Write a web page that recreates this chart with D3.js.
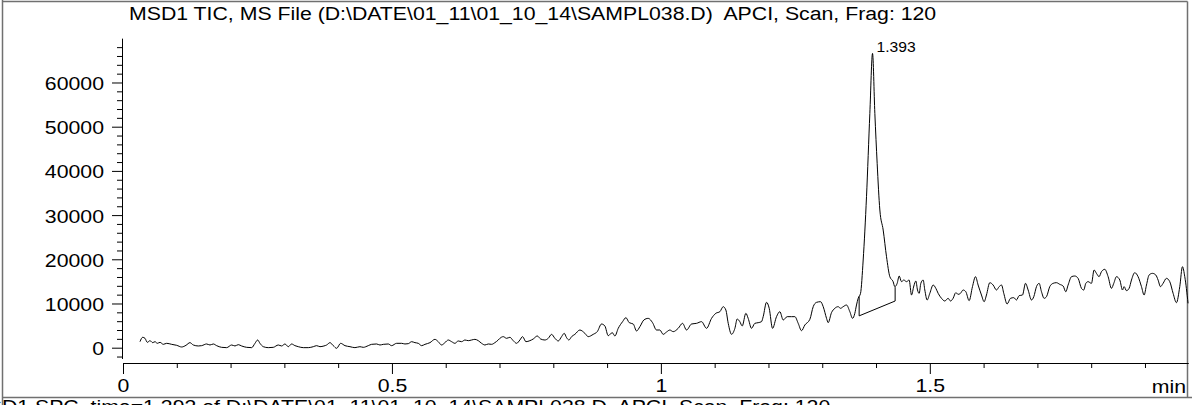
<!DOCTYPE html>
<html>
<head>
<meta charset="utf-8">
<script src="https://cdn.jsdelivr.net/npm/d3@7"></script>
<style>
  body { margin: 0; background: #fff; }
  svg { display: block; font-family: "Liberation Sans", Arial, sans-serif; }
</style>
</head>
<body>
<svg id="chart" width="1192" height="405"></svg>
<script>
// TIC trace (time in min, abundance in counts)
const scanTimes = [
  0.0316, 0.0366, 0.0409, 0.0452, 0.0502, 0.0552, 0.0595, 0.0638, 0.0688, 0.0750,
  0.0812, 0.0905, 0.0998, 0.1091, 0.1171, 0.1245, 0.1307, 0.1400, 0.1462, 0.1555,
  0.1617, 0.1679, 0.1741, 0.1834, 0.1927, 0.2020, 0.2082, 0.2143, 0.2206, 0.2299,
  0.2392, 0.2454, 0.2503, 0.2546, 0.2608, 0.2701, 0.2794, 0.2887, 0.2949, 0.3011,
  0.3073, 0.3135, 0.3197, 0.3259, 0.3352, 0.3445, 0.3538, 0.3600, 0.3662, 0.3736,
  0.3786, 0.3848, 0.3910, 0.3972, 0.4046, 0.4127, 0.4220, 0.4312, 0.4405, 0.4467,
  0.4560, 0.4622, 0.4715, 0.4777, 0.4839, 0.4932, 0.4994, 0.5087, 0.5180, 0.5242,
  0.5304, 0.5366, 0.5428, 0.5490, 0.5552, 0.5614, 0.5707, 0.5799, 0.5861, 0.5923,
  0.5985, 0.6047, 0.6109, 0.6171, 0.6233, 0.6295, 0.6357, 0.6419, 0.6481, 0.6543,
  0.6605, 0.6667, 0.6729, 0.6791, 0.6853, 0.6914, 0.6976,
  0.7007, 0.7070, 0.7131, 0.7193, 0.7255, 0.7317, 0.7379, 0.7429, 0.7491, 0.7565,
  0.7627, 0.7702, 0.7764, 0.7844, 0.7906, 0.7968, 0.8030, 0.8092, 0.8154, 0.8203,
  0.8247, 0.8290, 0.8340, 0.8401, 0.8494, 0.8587, 0.8649, 0.8742, 0.8817, 0.8897,
  0.8959, 0.9021, 0.9096, 0.9145, 0.9207, 0.9288, 0.9350, 0.9412, 0.9486, 0.9548,
  0.9610, 0.9684, 0.9765, 0.9845, 0.9919, 0.9981, 1.0043, 1.0105, 1.0167, 1.0229,
  1.0322, 1.0403, 1.0477, 1.0570, 1.0663, 1.0756, 1.0849, 1.0942, 1.1022, 1.1097,
  1.1159, 1.1208, 1.1252, 1.1314, 1.1376, 1.1419, 1.1468, 1.1512, 1.1580, 1.1623,
  1.1685, 1.1747, 1.1809, 1.1871, 1.1902, 1.1964, 1.2014, 1.2076, 1.2150, 1.2212,
  1.2274, 1.2349, 1.2429, 1.2491, 1.2553, 1.2615, 1.2677, 1.2770, 1.2832, 1.2894,
  1.2968, 1.3018, 1.3080, 1.3110, 1.3172, 1.3234, 1.3296, 1.3340, 1.3389, 1.3451,
  1.3513, 1.3563, 1.3606, 1.3637, 1.3668,
  1.3712, 1.3761, 1.3823, 1.3885, 1.3935, 1.3978, 1.4021, 1.4071, 1.4133, 1.4195,
  1.4257, 1.4318, 1.4349,
  1.4393, 1.4430, 1.4474, 1.4517, 1.4567, 1.4615, 1.4660, 1.4703, 1.4740, 1.4771,
  1.4802, 1.4833, 1.4876, 1.4907, 1.4950, 1.5000, 1.5062, 1.5112, 1.5155, 1.5217,
  1.5279, 1.5340, 1.5385, 1.5433, 1.5483, 1.5526, 1.5570, 1.5619, 1.5669, 1.5731,
  1.5793, 1.5849, 1.5898, 1.5960, 1.6010, 1.6053, 1.6115, 1.6177, 1.6239, 1.6289,
  1.6333, 1.6375, 1.6437, 1.6500, 1.6561, 1.6611, 1.6660, 1.6723, 1.6779, 1.6828,
  1.6890, 1.6933, 1.6983, 1.7032, 1.7076, 1.7125, 1.7169, 1.7230, 1.7292, 1.7354,
  1.7416, 1.7478, 1.7528, 1.7571, 1.7634, 1.7695, 1.7757, 1.7819, 1.7862, 1.7900,
  1.7942, 1.8005, 1.8054, 1.8098, 1.8147, 1.8191, 1.8253, 1.8315, 1.8377, 1.8420,
  1.8470, 1.8532, 1.8582, 1.8612, 1.8656, 1.8705, 1.8749, 1.8810, 1.8872, 1.8935,
  1.8984, 1.9028, 1.9077, 1.9139, 1.9201, 1.9244, 1.9288, 1.9337, 1.9399, 1.9461,
  1.9523, 1.9585, 1.9647, 1.9697, 1.9740, 1.9801
];
const ticCounts = [
  1360, 2350, 2120, 1210, 1590, 1140, 1360, 990, 1210, 760,
  990, 760, 540, 160, 540, 1140, 610, 390, 460, 840,
  610, 840, 460, 80, 10, 610, 390, 690, 390, 80,
  10, 990, 1740, 990, 230, 10, 80, 610, 390, 840,
  230, 840, 460, 230, 10, 10, 230, 460, 230, 390,
  610, 1140, 460, -140, 990, 460, 230, 10, 230, 80,
  460, 760, 840, 610, 760, 840, 460, 990, 990, 840,
  910, 1360, 1140, 990, 460, 760, 1140, 1890, 1360, 610,
  1140, 1740, 1360, 990, 1520, 1360, 1740, 1590, 1740, 1890,
  1590, 990, 610, 840, 760, 1140, 1740,
  2120, 2500, 2120, 2350, 1590, 990, 1740, 2500, 1360, 1590,
  1970, 2650, 1970, 1740, 2120, 3020, 2120, 1520, 2500, 3250,
  2270, 1740, 2500, 3020, 4000, 3250, 2500, 3020, 3630, 5360,
  4910, 2720, 3400, 2650, 4380, 5890, 6790, 5660, 5360, 3780,
  4760, 6270, 6640, 5660, 4000, 4000, 3020, 3550, 4000, 3630,
  4380, 5510, 4000, 5360, 5510, 5890, 4380, 6640, 7780, 8150,
  9280, 8530, 5510, 3020, 4380, 6490, 5890, 4910, 7780, 6640,
  4380, 5510, 5660, 5890, 7020, 10260, 8910, 4380, 7020, 8150,
  6270, 7020, 7020, 7020, 5510, 3850, 5140, 6420, 9280, 10260,
  10410, 9280, 6640, 5660, 7920, 8910, 9280, 8910, 9280, 9660,
  8150, 6640, 7780, 9660, 11170,
  12300, 19840, 34160, 53020, 66590, 53020, 41710, 31150, 26620, 20580,
  16060, 14940, 13810,
  14560, 16220, 14940, 15310, 14940, 15310, 11920, 13960, 15090, 13050,
  12300, 14560, 15310, 13050, 10790, 12300, 14180, 13430, 12300, 11170,
  10560, 11170, 10560, 11170, 12450, 12070, 12300, 13050, 12670, 10640,
  13810, 16070, 14180, 11920, 10410, 11920, 14710, 14180, 13050, 13810,
  14180, 12300, 9890, 11170, 11320, 10790, 11770, 11920, 14560, 13050,
  10790, 11540, 13810, 14560, 12670, 11170, 11540, 13810, 14560, 14710,
  14330, 13960, 12670, 14180, 16070, 16220, 15690, 13430, 13050, 14560,
  14940, 14560, 17580, 16820, 16070, 17200, 17730, 16070, 13430, 14560,
  16070, 15310, 13050, 13810, 12900, 13430, 15310, 16970, 16070, 13810,
  11920, 14180, 16450, 16820, 16450, 15310, 13810, 14560, 15690, 14940,
  12300, 10190, 13810, 18330, 16070, 10040
];

// integration baseline of the labelled peak
const baselineTimes = [1.3686, 1.4355];
const baselineCounts = [7200, 10560];
const baselineCurveCounts = [11600, 13700];
const peakTime = 1.3935;
const peakCounts = 66590;
const peakLabel = '1.393';

const xTickValues = [0, 0.5, 1, 1.5];
const xTickLabels = ['0', '0.5', '1', '1.5'];
const yTickValues = [0, 10000, 20000, 30000, 40000, 50000, 60000];
const yTickLabels = ['0', '10000', '20000', '30000', '40000', '50000', '60000'];
const xUnit = 'min';
const titleText = 'MSD1 TIC, MS File (D:\\DATE\\01_11\\01_10_14\\SAMPL038.D)  APCI, Scan, Frag: 120';
const footerText = 'MSD1 SPC, time=1.393 of D:\\DATE\\01_11\\01_10_14\\SAMPL038.D  APCI, Scan, Frag: 120';

const fontSize = 19;
const stretch = 1.12; // the original text is drawn a bit wide

const svg = d3.select('#chart');

const x = d3.scaleLinear().domain([0, 1.98]).range([123, 1188]);
const y = d3.scaleLinear().domain([-2400, 70000]).range([358.3, 38.3]);

// Frame
const frame = svg.append('g')
  .attr('stroke', '#707070')
  .attr('stroke-width', 1.5)
  .attr('fill', 'none');
frame.append('line').attr('x1', 2.5).attr('y1', 0).attr('x2', 2.5).attr('y2', 405);
frame.append('line').attr('x1', 2.5).attr('y1', 1.5).attr('x2', 1187.5).attr('y2', 1.5);
frame.append('line').attr('x1', 1187.5).attr('y1', 1.5).attr('x2', 1187.5).attr('y2', 397.5);
frame.append('line').attr('x1', 2.5).attr('y1', 397.5).attr('x2', 1192).attr('y2', 397.5);

const wideText = (sel) => sel.each(function () {
  const t = d3.select(this);
  const tx = +t.attr('x') || 0;
  t.attr('x', 0).attr('transform', `translate(${tx},0) scale(${stretch},1)`);
});

// Title and footer (the footer is cut by the window's bottom edge, as in the original)
svg.append('text')
  .attr('transform', `translate(129,20) scale(${stretch},1)`)
  .attr('font-size', fontSize)
  .style('white-space', 'pre')
  .text(titleText);
svg.append('text')
  .attr('transform', `translate(-30,412.5) scale(${stretch},1)`)
  .attr('font-size', fontSize)
  .style('white-space', 'pre')
  .text(footerText);

// Y axis
const yMinor = d3.range(-2000, 70001, 2000).filter(v => v % 10000 !== 0);
svg.append('g')
  .attr('transform', 'translate(122,0)')
  .call(d3.axisLeft(y).tickValues(yMinor).tickSize(5).tickSizeOuter(0).tickFormat(''));
const yAxis = svg.append('g')
  .attr('transform', 'translate(122,0)')
  .call(d3.axisLeft(y).tickValues(yTickValues).tickSize(10).tickSizeOuter(0).tickPadding(8)
    .tickFormat((d, i) => yTickLabels[i]));
yAxis.selectAll('text')
  .attr('font-size', fontSize)
  .attr('font-family', null)
  .attr('dy', '0.37em')
  .call(wideText);

// X axis
const xMinor = d3.range(0.1, 1.95, 0.1).filter(v => Math.abs(v - Math.round(v * 2) / 2) > 0.01);
svg.append('g')
  .attr('transform', 'translate(0,363)')
  .call(d3.axisBottom(x).tickValues(xMinor).tickSize(5).tickSizeOuter(0).tickFormat(''));
const xAxis = svg.append('g')
  .attr('transform', 'translate(0,363)')
  .call(d3.axisBottom(x).tickValues(xTickValues).tickSize(11).tickSizeOuter(0).tickPadding(5)
    .tickFormat((d, i) => xTickLabels[i]));
xAxis.selectAll('text')
  .attr('font-size', fontSize)
  .attr('font-family', null)
  .call(wideText);
svg.selectAll('.domain, .tick line').attr('stroke', '#000');

svg.append('text')
  .attr('transform', `translate(1186,393) scale(${stretch},1)`)
  .attr('font-size', fontSize)
  .attr('text-anchor', 'end')
  .text(xUnit);

// Trace
const trace = scanTimes.map((t, i) => [t, ticCounts[i]]);
const line = d3.line().x(d => x(d[0])).y(d => y(d[1]));
svg.append('path')
  .datum(trace)
  .attr('d', line.curve(d3.curveMonotoneX))
  .attr('fill', 'none')
  .attr('stroke', '#000')
  .attr('stroke-width', 1);
line.curve(d3.curveLinear);

// Peak integration baseline and drop lines
const integ = svg.append('g')
  .attr('stroke', '#000')
  .attr('stroke-width', 1)
  .attr('fill', 'none');
integ.append('path')
  .attr('d', line(baselineTimes.map((t, i) => [t, baselineCounts[i]])));
baselineTimes.forEach((t, i) => {
  integ.append('path')
    .attr('d', line([[t, baselineCounts[i]], [t, baselineCurveCounts[i]]]));
});

// Peak retention time label
svg.append('text')
  .attr('transform', `translate(${x(peakTime) + 4},${y(peakCounts) - 1}) scale(${stretch},1)`)
  .attr('font-size', 14)
  .text(peakLabel);
</script>
</body>
</html>
